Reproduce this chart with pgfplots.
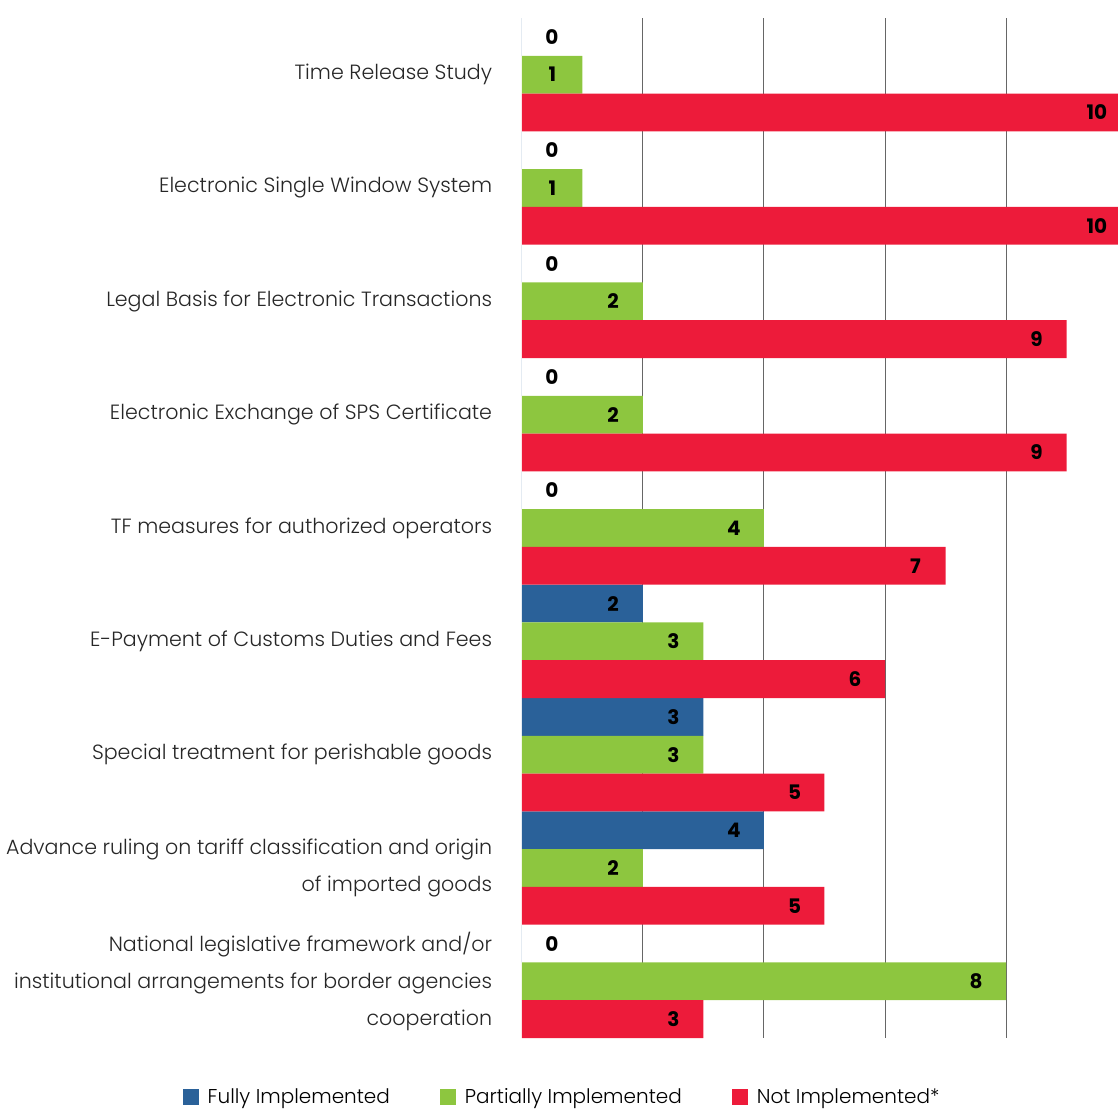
\documentclass[border=0pt]{standalone}
\usepackage{pgfplots}
\pgfplotsset{compat=1.18}
\usepackage{fontspec}
\setmainfont{Poppins}[UprightFont=* Light, BoldFont=* Bold]
\definecolor{cFull}{HTML}{2A6199}
\definecolor{cPart}{HTML}{8DC63F}
\definecolor{cNot}{HTML}{ED1B3A}
\begin{document}
\begin{tikzpicture}
\useasboundingbox (-261pt,-35.5pt) rectangle (298pt,519pt);
\begin{axis}[
  at={(0pt,0pt)}, anchor=south west,
  scale only axis,
  width=302.5pt, height=510pt,
  xmin=0, xmax=10,
  ymin=-0.5, ymax=8.5,
  y dir=reverse,
  clip=false,
  axis line style={draw=none},
  tick style={draw=none},
  xtick={2,4,6,8},
  xticklabels={},
  xmajorgrids,
  major grid style={draw=black!60, line width=0.5pt},
  ytick={0,...,8},
  yticklabels={
    {Time Release Study},
    {Electronic Single Window System},
    {Legal Basis for Electronic Transactions},
    {Electronic Exchange of SPS Certificate},
    {TF measures for authorized operators},
    {E-Payment of Customs Duties and Fees},
    {Special treatment for perishable goods},
    {Advance ruling on tariff classification and origin\\of imported goods},
    {National legislative framework and/or\\institutional arrangements for border agencies\\cooperation}
  },
  yticklabel style={align=right, inner sep=0pt, anchor=east, xshift=-10.5pt,
    font=\fontsize{10.3}{18.5}\selectfont, text=black!85},
  /pgf/number format/assume math mode=true,
  xbar, bar width=0.33333, bar shift=0,
  point meta=x,
  visualization depends on=rawx \as \rawx,
  nodes near coords,
  every node near coord/.append style={anchor=center,
    font=\fontsize{10}{12}\bfseries, text=black,
    xshift={ifthenelse(\rawx<0.5,15,-15)}},
  legend style={draw=none, at={(axis description cs:0.068,-0.058)}, anchor=center,
    legend columns=3, font=\fontsize{10}{12}\selectfont,
    /tikz/every even column/.append style={column sep=23pt}},
  legend cell align=left,
  legend image code/.code={\fill[#1] (0pt,-4pt) rectangle (8pt,4pt); \path (10.5pt,0pt);},
]
\addplot[fill=cFull, draw=none]
  coordinates {(0,-0.33333) (0,0.66667) (0,1.66667) (0,2.66667) (0,3.66667) (2,4.66667) (3,5.66667) (4,6.66667) (0,7.66667)};
\addlegendentry{Fully Implemented}
\addplot[fill=cPart, draw=none]
  coordinates {(1,0) (1,1) (2,2) (2,3) (4,4) (3,5) (3,6) (2,7) (8,8)};
\addlegendentry{Partially Implemented}
\addplot[fill=cNot, draw=none]
  coordinates {(10,0.33333) (10,1.33333) (9,2.33333) (9,3.33333) (7,4.33333) (6,5.33333) (5,6.33333) (5,7.33333) (3,8.33333)};
\addlegendentry{Not Implemented*}
\end{axis}
\end{tikzpicture}
\end{document}
